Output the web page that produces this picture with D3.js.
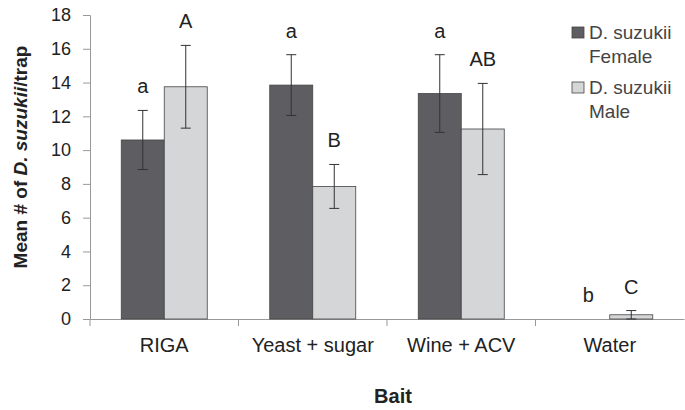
<!DOCTYPE html>
<html><head><meta charset="utf-8">
<script src="https://cdn.jsdelivr.net/npm/d3@7"></script>
<style>body{margin:0;background:#fff}text{font-family:"Liberation Sans",Arial,sans-serif}</style>
</head><body><svg id="c" width="685" height="410"></svg>
<script>
const baits = ["RIGA", "Yeast + sugar", "Wine + ACV", "Water"];
const female = [10.6, 13.85, 13.35, 0];
const femaleErr = [1.75, 1.8, 2.3, 0];
const male = [13.75, 7.85, 11.25, 0.25];
const maleErr = [2.45, 1.3, 2.7, 0.25];
const femaleLetters = ["a", "a", "a", "b"];
const maleLetters = ["A", "B", "AB", "C"];
const yTicks = [0, 2, 4, 6, 8, 10, 12, 14, 16, 18];

const svg = d3.select("#c");
const m = {l: 90, r: 0, t: 15, b: 91};
const W = 685 - m.l - m.r, H = 410 - m.t - m.b;
const g = svg.append("g").attr("transform", `translate(${m.l},${m.t})`);
const x = d3.scaleBand().domain(baits).range([0, W - 1]);
const y = d3.scaleLinear().domain([0, 18]).range([H, 0]);
const bw = 43;

const ya = g.append("g").call(d3.axisLeft(y).tickValues(yTicks).tickSize(7).tickPadding(12));
ya.selectAll("text").style("font-size", "18px").attr("fill", "#222");
ya.selectAll("line,path").attr("stroke", "#999");
const xa = g.append("g").attr("transform", `translate(0,${H})`).call(d3.axisBottom(x).tickSize(0).tickPadding(19));
xa.selectAll("text").style("font-size", "20px").attr("fill", "#222");
xa.select("path").attr("stroke", "#999");
g.selectAll(".sep").data(d3.range(baits.length)).join("line")
  .attr("x1", i => x.step() * i).attr("x2", i => x.step() * i)
  .attr("y1", H).attr("y2", H + 7).attr("stroke", "#999");

const series = [
  {vals: female, err: femaleErr, lab: femaleLetters, fill: "#5e5e62", off: -bw},
  {vals: male, err: maleErr, lab: maleLetters, fill: "#d5d6d8", off: 0}
];
series.forEach(s => {
  baits.forEach((b, i) => {
    const cx = x(b) + x.bandwidth() / 2 + s.off;
    const v = s.vals[i], e = s.err[i];
    if (v > 0) g.append("rect").attr("x", cx).attr("width", bw).attr("y", y(v)).attr("height", H - y(v))
      .attr("fill", s.fill).attr("stroke", "#444").attr("stroke-width", 0.8);
    const mx = cx + bw / 2;
    if (e > 0) {
      g.append("line").attr("x1", mx).attr("x2", mx).attr("y1", y(v + e)).attr("y2", y(Math.max(0, v - e))).attr("stroke", "#333");
      [v + e, v - e].forEach(t => g.append("line").attr("x1", mx - 5).attr("x2", mx + 5).attr("y1", y(t)).attr("y2", y(t)).attr("stroke", "#333"));
    }
    g.append("text").attr("x", mx).attr("y", y(v + e) - 17).attr("text-anchor", "middle")
      .style("font-size", "20px").attr("fill", "#222").text(s.lab[i]);
  });
});

const lg = svg.append("g").attr("transform", "translate(572,27)");
[["Female", "#5e5e62"], ["Male", "#d5d6d8"]].forEach((d, i) => {
  const gy = i * 55;
  lg.append("rect").attr("x", 0).attr("y", gy).attr("width", 12).attr("height", 11).attr("fill", d[1]).attr("stroke", "#444").attr("stroke-width", 0.8);
  lg.append("text").attr("x", 17).attr("y", gy + 12).style("font-size", "19px").attr("fill", "#444").text("D. suzukii");
  lg.append("text").attr("x", 17).attr("y", gy + 36).style("font-size", "19px").attr("fill", "#444").text(d[0]);
});

svg.append("text").attr("x", 393).attr("y", 403).attr("text-anchor", "middle")
  .style("font-size", "20px").style("font-weight", "bold").attr("fill", "#222").text("Bait");
const yt = svg.append("text").attr("transform", `translate(27,${m.t + H / 2 - 10}) rotate(-90)`).attr("text-anchor", "middle")
  .style("font-size", "19px").style("font-weight", "bold").attr("fill", "#222");
yt.append("tspan").text("Mean # of ");
yt.append("tspan").style("font-style", "italic").text("D. suzukii");
yt.append("tspan").text("/trap");
</script></body></html>
